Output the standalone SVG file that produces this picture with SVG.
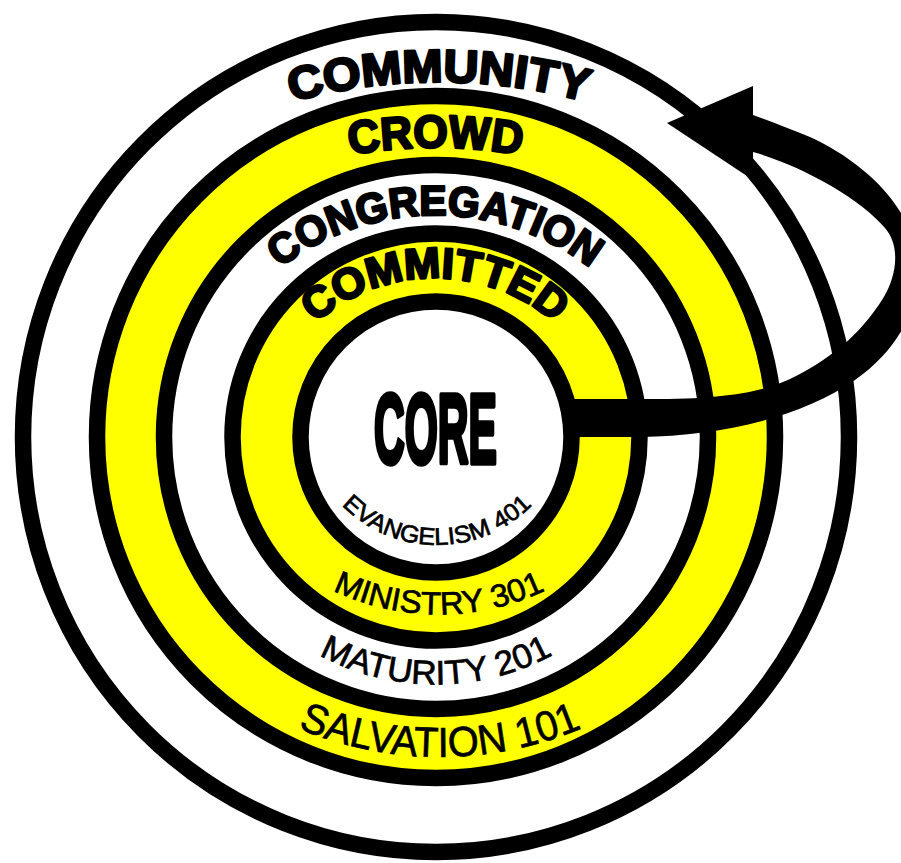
<svg xmlns="http://www.w3.org/2000/svg" width="901" height="863" viewBox="0 0 901 863">
<defs>
<style>
.ring{stroke:#000;stroke-width:16.5}
.y{fill:#ffff00}
.w{fill:#ffffff}
.hv{font-family:"Liberation Sans",Arial,sans-serif;font-weight:bold;fill:#000;stroke:#000;stroke-width:2.6;stroke-linejoin:round}
.rg{font-family:"Liberation Sans",Arial,sans-serif;fill:#000;stroke:#000;stroke-width:0.7}
.core{font-family:"Liberation Sans",Arial,sans-serif;font-weight:bold;fill:#000;stroke:#000;stroke-width:5.5;stroke-linejoin:round}
.arrow{fill:#000;stroke:none}
</style>
<path id="p-community" d="M -121 642 A 560 560 0 0 1 999 642"/>
<path id="p-crowd" d="M -64.5 647.5 A 500 500 0 0 1 935.5 647.5"/>
<path id="p-congregation" d="M 181 469 A 254 254 0 0 1 689 469"/>
<path id="p-committed" d="M 253 460 A 182 182 0 0 1 617 460"/>
<path id="p-evangelism" d="M 303 411 A 134 134 0 0 0 571 411"/>
<path id="p-ministry" d="M 190.5 366 A 248.5 248.5 0 0 0 687.5 366"/>
<path id="p-maturity" d="M 190.5 439 A 245.5 245.5 0 0 0 681.5 439"/>
<path id="p-salvation" d="M 73 390 A 367 367 0 0 0 807 390"/>
</defs>
<rect width="901" height="863" fill="#ffffff"/>

<g id="community">
<ellipse class="ring w" cx="436" cy="437" rx="413" ry="415"/>
</g>
<g id="crowd">
<ellipse class="ring y" cx="436" cy="437" rx="339" ry="341"/>
</g>
<g id="congregation">
<circle class="ring w" cx="436" cy="437" r="272"/>
</g>
<g id="committed">
<circle class="ring y" cx="436" cy="437" r="203.5"/>
</g>
<g id="core">
<circle class="ring w" cx="436" cy="437" r="135.5"/>
</g>

<g id="labels">
<text class="hv" font-size="46"><textPath href="#p-community" startOffset="50%" text-anchor="middle" textLength="298" lengthAdjust="spacingAndGlyphs">COMMUNITY</textPath></text>
<text class="hv" font-size="46"><textPath href="#p-crowd" startOffset="50%" text-anchor="middle" textLength="172" lengthAdjust="spacingAndGlyphs">CROWD</textPath></text>
<text class="hv" font-size="42"><textPath href="#p-congregation" startOffset="50%" text-anchor="middle" textLength="334" lengthAdjust="spacingAndGlyphs">CONGREGATION</textPath></text>
<text class="hv" font-size="43"><textPath href="#p-committed" startOffset="50%" text-anchor="middle" textLength="262" lengthAdjust="spacingAndGlyphs">COMMITTED</textPath></text>
<text class="core" font-size="99" x="374" y="463" textLength="123" lengthAdjust="spacingAndGlyphs">CORE</text>
<text class="rg" font-size="24"><textPath href="#p-evangelism" startOffset="50%" text-anchor="middle" textLength="212" lengthAdjust="spacingAndGlyphs">EVANGELISM 401</textPath></text>
<text class="rg" font-size="32"><textPath href="#p-ministry" startOffset="50%" text-anchor="middle" textLength="220" lengthAdjust="spacingAndGlyphs">MINISTRY 301</textPath></text>
<text class="rg" font-size="34"><textPath href="#p-maturity" startOffset="50%" text-anchor="middle" textLength="244" lengthAdjust="spacingAndGlyphs">MATURITY 201</textPath></text>
<text class="rg" font-size="42"><textPath href="#p-salvation" startOffset="50%" text-anchor="middle" textLength="292" lengthAdjust="spacingAndGlyphs">SALVATION 101</textPath></text>
</g>

<g id="connectors">
<path class="arrow" d="M 570 437 L 640 437 C 720 436, 800 418, 855 380 C 905 345, 925 295, 916 250 C 905 200, 860 160, 810 137 C 790 129, 770 121, 753 115 L 753 152 C 800 165, 860 198, 885 228 C 900 245, 898 275, 882 300 C 866 325, 840 355, 790 379 C 760 393, 720 399, 650 399 L 570 399 Z"/>
<polygon class="arrow" points="667,123 753,86 753,180"/>
</g>
</svg>
